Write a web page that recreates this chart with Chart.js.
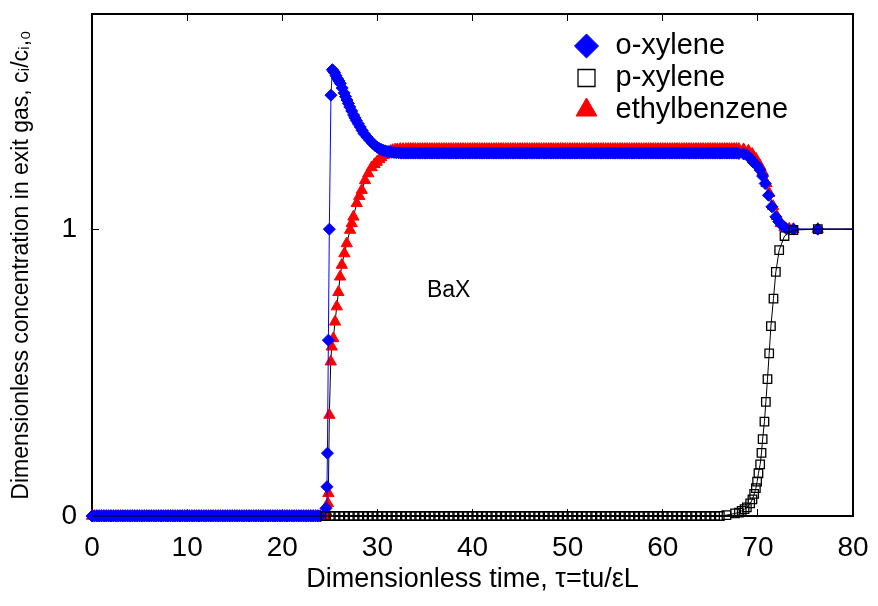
<!DOCTYPE html>
<html>
<head>
<meta charset="utf-8">
<script src="https://cdn.jsdelivr.net/npm/chart.js@4.4.1/dist/chart.umd.min.js"></script>
<style>
  html, body { margin: 0; background: #fff; }
  #wrap { width: 878px; height: 606px; }
</style>
</head>
<body>
<div id="wrap"><canvas id="c"></canvas></div>
<script>
// Ticks
const xTicks = [0, 10, 20, 30, 40, 50, 60, 70, 80];
const yTicks = [0, 1];
const names = ['o-xylene', 'p-xylene', 'ethylbenzene'];

// o-xylene
const oxT = [
  0,0.25,0.5,0.75,1,1.25,1.5,1.75,2,2.25,2.5,2.75,3,3.25,3.5,3.75,4,4.25,4.5,4.75,
  5,5.25,5.5,5.75,6,6.25,6.5,6.75,7,7.25,7.5,7.75,8,8.25,8.5,8.75,9,9.25,9.5,9.75,
  10,10.25,10.5,10.75,11,11.25,11.5,11.75,12,12.25,12.5,12.75,13,13.25,13.5,13.75,14,14.25,14.5,14.75,
  15,15.25,15.5,15.75,16,16.25,16.5,16.75,17,17.25,17.5,17.75,18,18.25,18.5,18.75,19,19.25,19.5,19.75,
  20,20.25,20.5,20.75,21,21.25,21.5,21.75,22,22.25,22.5,22.75,23,23.25,23.5,23.75,24,
  24.6,24.7,24.75,24.85,24.95,25.12,
  25.27,25.4,25.5,25.65,25.8,25.95,26.1,26.3,26.5,26.65,
  26.8,26.95,27.1,27.3,27.5,27.65,27.8,28,28.2,28.4,
  28.6,28.9,29.2,29.5,29.8,30,30.2,30.4,30.6,30.8,
  31,31.25,31.5,31.75,32,32.25,32.5,32.75,
  33,33.25,33.5,33.75,34,34.25,34.5,34.75,35,35.25,35.5,35.75,36,36.25,36.5,36.75,37,37.25,37.5,37.75,
  38,38.25,38.5,38.75,39,39.25,39.5,39.75,40,40.25,40.5,40.75,41,41.25,41.5,41.75,42,42.25,42.5,42.75,
  43,43.25,43.5,43.75,44,44.25,44.5,44.75,45,45.25,45.5,45.75,46,46.25,46.5,46.75,47,47.25,47.5,47.75,
  48,48.25,48.5,48.75,49,49.25,49.5,49.75,50,50.25,50.5,50.75,51,51.25,51.5,51.75,52,52.25,52.5,52.75,
  53,53.25,53.5,53.75,54,54.25,54.5,54.75,55,55.25,55.5,55.75,56,56.25,56.5,56.75,57,57.25,57.5,57.75,
  58,58.25,58.5,58.75,59,59.25,59.5,59.75,60,60.25,60.5,60.75,61,61.25,61.5,61.75,62,62.25,62.5,62.75,
  63,63.25,63.5,63.75,64,64.25,64.5,64.75,65,65.25,65.5,65.75,66,66.25,66.5,66.75,67,67.25,67.5,67.75,
  68,
  68.5,68.84,69.2,69.5,69.9,70.24,70.5,70.77,71.12,71.47,
  71.89,72.2,72.52,72.98,73.74,76.3,82
];
const oxY = [
  0,0,0,0,0,0,0,0,0,0,0,0,0,0,0,0,0,0,0,0,
  0,0,0,0,0,0,0,0,0,0,0,0,0,0,0,0,0,0,0,0,
  0,0,0,0,0,0,0,0,0,0,0,0,0,0,0,0,0,0,0,0,
  0,0,0,0,0,0,0,0,0,0,0,0,0,0,0,0,0,0,0,0,
  0,0,0,0,0,0,0,0,0,0,0,0,0,0,0,0,0,
  0.027,0.102,0.219,0.613,1.0,1.467,
  1.556,1.55,1.545,1.535,1.525,1.517,1.508,1.492,1.475,1.462,
  1.45,1.438,1.426,1.412,1.398,1.388,1.378,1.367,1.356,1.344,
  1.333,1.321,1.31,1.299,1.29,1.285,1.281,1.278,1.275,1.273,
  1.271,1.27,1.268,1.267,1.266,1.266,1.265,1.265,
  1.265,1.265,1.265,1.265,1.265,1.265,1.265,1.265,1.265,1.265,1.265,1.265,1.265,1.265,1.265,1.265,1.265,1.265,1.265,1.265,
  1.265,1.265,1.265,1.265,1.265,1.265,1.265,1.265,1.265,1.265,1.265,1.265,1.265,1.265,1.265,1.265,1.265,1.265,1.265,1.265,
  1.265,1.265,1.265,1.265,1.265,1.265,1.265,1.265,1.265,1.265,1.265,1.265,1.265,1.265,1.265,1.265,1.265,1.265,1.265,1.265,
  1.265,1.265,1.265,1.265,1.265,1.265,1.265,1.265,1.265,1.265,1.265,1.265,1.265,1.265,1.265,1.265,1.265,1.265,1.265,1.265,
  1.265,1.265,1.265,1.265,1.265,1.265,1.265,1.265,1.265,1.265,1.265,1.265,1.265,1.265,1.265,1.265,1.265,1.265,1.265,1.265,
  1.265,1.265,1.265,1.265,1.265,1.265,1.265,1.265,1.265,1.265,1.265,1.265,1.265,1.265,1.265,1.265,1.265,1.265,1.265,1.265,
  1.265,1.265,1.265,1.265,1.265,1.265,1.265,1.265,1.265,1.265,1.265,1.265,1.265,1.265,1.265,1.265,1.265,1.265,1.265,1.265,
  1.264,
  1.262,1.258,1.248,1.234,1.222,1.206,1.185,1.159,1.118,1.078,
  1.043,1.026,1.014,1.002,1.0,1.0,1.0
];

// p-xylene
const pxT = [
  0,24,
  24.5,25,25.5,26,26.5,27,27.5,28,28.5,29, 29.5,30,30.5,31,31.5,32,32.5,33,33.5,34,
  34.5,35,35.5,36,36.5,37,37.5,38,38.5,39, 39.5,40,40.5,41,41.5,42,42.5,43,43.5,44,
  44.5,45,45.5,46,46.5,47,47.5,48,48.5,49, 49.5,50,50.5,51,51.5,52,52.5,53,53.5,54,
  54.5,55,55.5,56,56.5,57,57.5,58,58.5,59, 59.5,60,60.5,61,61.5,62,62.5,63,63.5,64,
  64.5,65,65.5,66,
  66.7,67.6,68,68.3,68.6,68.84,69.19,69.43,69.61,69.79,
  69.92,70.06,70.24,70.38,70.5,70.69,70.84,71.01,71.19,71.37,
  71.64,71.89,72.24,72.8,73.74,76.3,82
];
const pxY = [
  0,0,
  0,0,0,0,0,0,0,0,0,0, 0,0,0,0,0,0,0,0,0,0,
  0,0,0,0,0,0,0,0,0,0, 0,0,0,0,0,0,0,0,0,0,
  0,0,0,0,0,0,0,0,0,0, 0,0,0,0,0,0,0,0,0,0,
  0,0,0,0,0,0,0,0,0,0, 0,0,0,0,0,0,0,0,0,0,
  0,0,0,0,
  0.003,0.009,0.012,0.018,0.024,0.03,0.044,0.058,0.077,0.097,
  0.12,0.149,0.18,0.22,0.268,0.329,0.398,0.477,0.567,0.662,
  0.758,0.851,0.927,0.976,0.997,1.0,1.0
];

// ethylbenzene
const ebT = [
  0,0.25,0.5,0.75,1,1.25,1.5,1.75,2,2.25,2.5,2.75,3,3.25,3.5,3.75,4,4.25,4.5,4.75,
  5,5.25,5.5,5.75,6,6.25,6.5,6.75,7,7.25,7.5,7.75,8,8.25,8.5,8.75,9,9.25,9.5,9.75,
  10,10.25,10.5,10.75,11,11.25,11.5,11.75,12,12.25,12.5,12.75,13,13.25,13.5,13.75,14,14.25,14.5,14.75,
  15,15.25,15.5,15.75,16,16.25,16.5,16.75,17,17.25,17.5,17.75,18,18.25,18.5,18.75,19,19.25,19.5,19.75,
  20,20.25,20.5,20.75,21,21.25,21.5,21.75,22,22.25,22.5,22.75,23,23.25,23.5,23.75,24,
  24.5,24.7,24.8,24.85,24.95,25.1,25.2,25.37,25.55,25.73,
  25.9,26.08,26.26,26.53,26.78,27.13,27.3,27.48,27.83,28.1,
  28.36,28.7,29.05,29.4,29.7,29.94,30.2,30.4,30.7,30.99,
  31.2,31.4,31.6,31.86,32.1,32.4,32.7,
  33,33.25,33.5,33.75,34,34.25,34.5,34.75,35,35.25,35.5,35.75,36,36.25,36.5,36.75,37,37.25,37.5,37.75,
  38,38.25,38.5,38.75,39,39.25,39.5,39.75,40,40.25,40.5,40.75,41,41.25,41.5,41.75,42,42.25,42.5,42.75,
  43,43.25,43.5,43.75,44,44.25,44.5,44.75,45,45.25,45.5,45.75,46,46.25,46.5,46.75,47,47.25,47.5,47.75,
  48,48.25,48.5,48.75,49,49.25,49.5,49.75,50,50.25,50.5,50.75,51,51.25,51.5,51.75,52,52.25,52.5,52.75,
  53,53.25,53.5,53.75,54,54.25,54.5,54.75,55,55.25,55.5,55.75,56,56.25,56.5,56.75,57,57.25,57.5,57.75,
  58,58.25,58.5,58.75,59,59.25,59.5,59.75,60,60.25,60.5,60.75,61,61.25,61.5,61.75,62,62.25,62.5,62.75,
  63,63.25,63.5,63.75,64,64.25,64.5,64.75,65,65.25,65.5,65.75,66,66.25,66.5,66.75,67,67.25,67.5,67.75,
  68,
  68.5,69,69.4,69.8,70.2,70.5,70.9,71.2,71.6,72,
  72.4,72.8,73.3,73.74,76.3,82
];
const ebY = [
  0,0,0,0,0,0,0,0,0,0,0,0,0,0,0,0,0,0,0,0,
  0,0,0,0,0,0,0,0,0,0,0,0,0,0,0,0,0,0,0,0,
  0,0,0,0,0,0,0,0,0,0,0,0,0,0,0,0,0,0,0,0,
  0,0,0,0,0,0,0,0,0,0,0,0,0,0,0,0,0,0,0,0,
  0,0,0,0,0,0,0,0,0,0,0,0,0,0,0,0,0,
  0,0.01,0.044,0.079,0.352,0.538,0.59,0.619,0.677,0.73,
  0.78,0.834,0.875,0.915,0.95,0.997,1.02,1.043,1.09,1.115,
  1.136,1.17,1.194,1.215,1.226,1.234,1.243,1.25,1.258,1.264,
  1.269,1.272,1.275,1.277,1.278,1.279,1.279,
  1.279,1.279,1.279,1.279,1.279,1.279,1.279,1.279,1.279,1.279,1.279,1.279,1.279,1.279,1.279,1.279,1.279,1.279,1.279,1.279,
  1.279,1.279,1.279,1.279,1.279,1.279,1.279,1.279,1.279,1.279,1.279,1.279,1.279,1.279,1.279,1.279,1.279,1.279,1.279,1.279,
  1.279,1.279,1.279,1.279,1.279,1.279,1.279,1.279,1.279,1.279,1.279,1.279,1.279,1.279,1.279,1.279,1.279,1.279,1.279,1.279,
  1.279,1.279,1.279,1.279,1.279,1.279,1.279,1.279,1.279,1.279,1.279,1.279,1.279,1.279,1.279,1.279,1.279,1.279,1.279,1.279,
  1.279,1.279,1.279,1.279,1.279,1.279,1.279,1.279,1.279,1.279,1.279,1.279,1.279,1.279,1.279,1.279,1.279,1.279,1.279,1.279,
  1.279,1.279,1.279,1.279,1.279,1.279,1.279,1.279,1.279,1.279,1.279,1.279,1.279,1.279,1.279,1.279,1.279,1.279,1.279,1.279,
  1.279,1.279,1.279,1.279,1.279,1.279,1.279,1.279,1.279,1.279,1.279,1.279,1.279,1.279,1.279,1.279,1.279,1.279,1.279,1.279,
  1.279,
  1.278,1.273,1.262,1.245,1.222,1.2,1.16,1.125,1.08,1.045,
  1.02,1.006,1.001,1.0,1.0,1.0
];

const pts = (t, v) => t.map((x, i) => ({ x, y: v[i] }));
[[oxT, oxY], [pxT, pxY], [ebT, ebY]].forEach(([t, v], i) => {
  if (t.length !== v.length) console.error('length mismatch', names[i], t.length, v.length);
});

Chart.defaults.font.family = "'Liberation Sans', Arial, sans-serif";
Chart.defaults.color = '#000';

const fixTicks = (vals) => (ax) => { ax.ticks = vals.map(v => ({ value: v })); };
// axis size fixed, no extra label overflow padding
const fitTo = (prop, size) => (ax) => {
  ax[prop] = size;
  ax.paddingTop = ax.paddingBottom = ax.paddingLeft = ax.paddingRight = 0;
};
const inner = { drawOnChartArea: false, drawTicks: true, tickLength: -7, color: '#000', lineWidth: 1 };
const frame = { color: '#000', width: 2 };
// markers may spill past left/bottom edges, lines stop at the right frame
const spill = { left: 8, bottom: 8, top: 8, right: 0 };

// legend sits inside the plot, top right
const legendSpot = {
  id: 'legendSpot',
  afterLayout(chart) {
    const lg = chart.legend;
    if (!lg) return;
    lg.left = 569;
    lg.top = 28.5;
  }
};

// "BaX" label
const tag = {
  id: 'tag',
  afterDatasetsDraw(chart) {
    const { ctx, scales: { x, y } } = chart;
    ctx.save();
    ctx.font = "23px 'Liberation Sans', Arial, sans-serif";
    ctx.fillStyle = '#000';
    ctx.textAlign = 'center';
    ctx.textBaseline = 'middle';
    ctx.fillText('BaX', x.getPixelForValue(37.5), y.getPixelForValue(0.787));
    ctx.restore();
  }
};

new Chart(document.getElementById('c'), {
  type: 'line',
  data: {
    datasets: [
      {
        label: names[0], data: pts(oxT, oxY), order: 1, clip: spill,
        borderColor: '#0000ff', borderWidth: 1, tension: 0,
        pointStyle: 'rectRot', pointRadius: 6,
        pointBackgroundColor: '#0000ff', pointBorderColor: '#0000ff', pointBorderWidth: 1
      },
      {
        label: names[1], data: pts(pxT, pxY), order: 0, clip: spill,
        borderColor: '#000', borderWidth: 1, tension: 0,
        pointStyle: 'rect',
        pointRadius: (c) => (c.raw && c.raw.x < 24.4 ? 0 : 6),
        pointBackgroundColor: 'rgba(255,255,255,0)', pointBorderColor: '#000', pointBorderWidth: 1.3
      },
      {
        label: names[2], data: pts(ebT, ebY), order: 2, clip: spill,
        borderColor: '#000', borderWidth: 1, tension: 0,
        pointStyle: 'triangle', pointRadius: 6.5,
        pointBackgroundColor: '#ff0000', pointBorderColor: '#ff0000', pointBorderWidth: 1
      }
    ]
  },
  options: {
    responsive: true,
    maintainAspectRatio: false,
    animation: false,
    layout: { padding: { top: 14, right: 25, left: 0, bottom: 0 } },
    plugins: {
      legend: {
        position: 'chartArea',
        align: 'start',
        labels: {
          usePointStyle: true, boxHeight: 17, padding: 3, font: { size: 29 }, color: '#000',
          sort: (a, b) => a.datasetIndex - b.datasetIndex
        }
      },
      tooltip: { enabled: false }
    },
    scales: {
      x: {
        type: 'linear', position: 'bottom', min: 0, max: 80,
        afterBuildTicks: fixTicks(xTicks),
        afterFit: fitTo('height', 90),
        grid: inner, border: frame,
        ticks: { font: { size: 28 }, padding: 22, maxRotation: 0, autoSkip: false },
        title: { display: true, text: 'Dimensionless time, τ=tu/εL', font: { size: 27 }, padding: { top: 0, bottom: 10 } }
      },
      x2: {
        type: 'linear', position: 'top', min: 0, max: 80,
        afterBuildTicks: fixTicks(xTicks),
        afterFit: fitTo('height', 0),
        grid: inner, border: frame,
        ticks: { display: false }
      },
      y: {
        type: 'linear', position: 'left', min: 0, max: 1.75,
        afterBuildTicks: fixTicks(yTicks),
        afterFit: fitTo('width', 92),
        grid: inner, border: frame,
        ticks: { font: { size: 28 }, padding: 22, autoSkip: false },
        title: { display: true, text: 'Dimensionless concentration in exit gas, cᵢ/cᵢ,₀', font: { size: 23 }, padding: { top: 8, bottom: 0 } }
      },
      y2: {
        type: 'linear', position: 'right', min: 0, max: 1.75,
        afterBuildTicks: fixTicks(yTicks),
        afterFit: fitTo('width', 0),
        grid: inner, border: frame,
        ticks: { display: false }
      }
    }
  },
  plugins: [legendSpot, tag]
});
</script>
</body>
</html>
